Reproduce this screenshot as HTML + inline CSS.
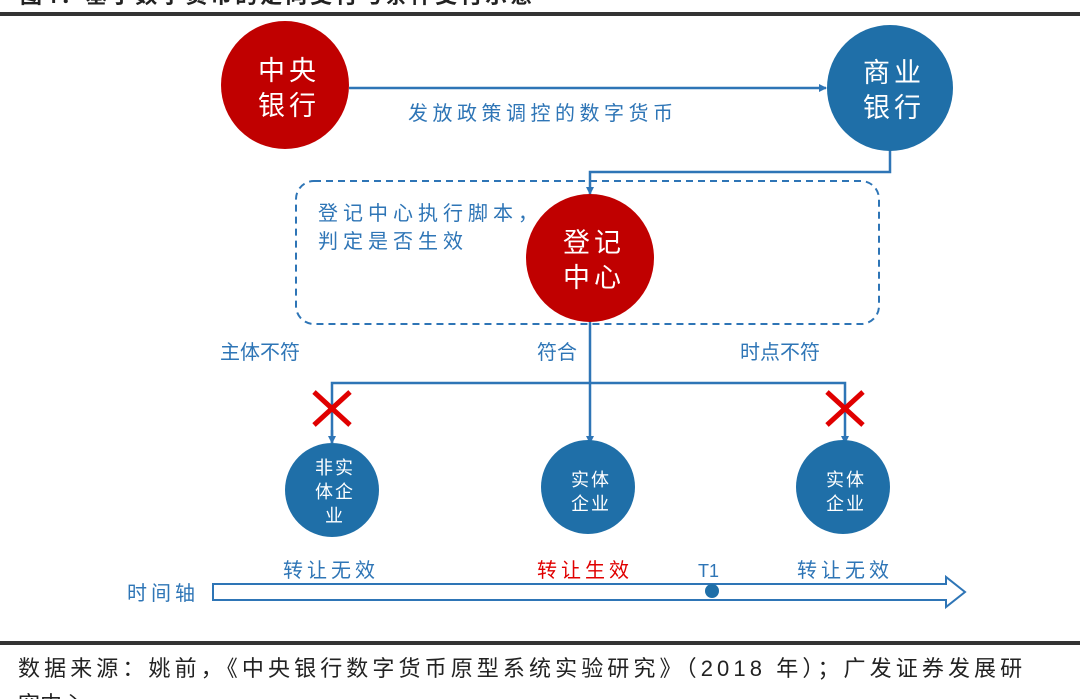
<!DOCTYPE html>
<html><head><meta charset="utf-8"><style>
body{margin:0;background:#fff;}
svg{display:block;font-family:"Liberation Sans","Noto Sans CJK SC",sans-serif;}
</style></head><body>
<svg width="1080" height="699" viewBox="0 0 1080 699" xmlns="http://www.w3.org/2000/svg">
<defs>
<marker id="a" markerWidth="8" markerHeight="8" refX="7" refY="4" orient="auto" markerUnits="userSpaceOnUse"><path d="M0,0 L8,4 L0,8 z" fill="#2e75b6"/></marker>
</defs>
<text x="20" y="3" font-size="22" fill="#222" font-weight="bold" letter-spacing="3">图4：基于数字货币的定向支付与条件支付示意</text>
<rect x="0" y="12" width="1080" height="4" fill="#333"/>
<rect x="0" y="641" width="1080" height="4" fill="#333"/>
<text x="18" y="676" font-size="22" fill="#222" letter-spacing="4.1">数据来源：姚前，《中央银行数字货币原型系统实验研究》（2018 年）；广发证券发展研</text>
<text x="18" y="712" font-size="22" fill="#222">究中心</text>

<g stroke="#2e75b6" stroke-width="2.5" fill="none">
<line x1="349" y1="88" x2="826" y2="88" marker-end="url(#a)"/>
<polyline points="890,150 890,172 590,172 590,194" marker-end="url(#a)"/>
<line x1="590" y1="320" x2="590" y2="443" marker-end="url(#a)"/>
<polyline points="332,443 332,383 845,383 845,443" marker-end="url(#a)"/>
<line x1="332" y1="430" x2="332" y2="443" marker-end="url(#a)"/>
</g>
<rect x="296" y="181" width="583" height="143" rx="18" fill="none" stroke="#2e75b6" stroke-width="2" stroke-dasharray="7,5"/>

<circle cx="285" cy="85" r="64" fill="#c00000"/>
<circle cx="890" cy="88" r="63" fill="#1f6fa8"/>
<circle cx="590" cy="258" r="64" fill="#c00000"/>
<circle cx="332" cy="490" r="47" fill="#1f6fa8"/>
<circle cx="588" cy="487" r="47" fill="#1f6fa8"/>
<circle cx="843" cy="487" r="47" fill="#1f6fa8"/>

<g fill="#fff" font-size="27" text-anchor="middle" letter-spacing="4">
<text x="289" y="80">中央</text><text x="289" y="115">银行</text>
<text x="894" y="82">商业</text><text x="894" y="117">银行</text>
<text x="594" y="252">登记</text><text x="594" y="287">中心</text>
</g>
<g fill="#fff" font-size="18" text-anchor="middle" letter-spacing="2">
<text x="335" y="474">非实</text><text x="335" y="498">体企</text><text x="335" y="522">业</text>
<text x="591" y="486">实体</text><text x="591" y="510">企业</text>
<text x="846" y="486">实体</text><text x="846" y="510">企业</text>
</g>

<g fill="#2e75b6" font-size="20">
<text x="408" y="120" letter-spacing="4.5">发放政策调控的数字货币</text>
<text x="318" y="220" letter-spacing="5">登记中心执行脚本，</text>
<text x="318" y="248" letter-spacing="5">判定是否生效</text>
<text x="220" y="359">主体不符</text>
<text x="537" y="359">符合</text>
<text x="740" y="359">时点不符</text>
<text x="283" y="577" letter-spacing="4">转让无效</text>
<text x="797" y="577" letter-spacing="4">转让无效</text>
<text x="127" y="600" letter-spacing="4">时间轴</text>
<text x="698" y="577" font-size="18">T1</text>
</g>
<text x="537" y="577" fill="#e00000" font-size="20" letter-spacing="4">转让生效</text>

<g stroke="#e00000" stroke-width="5">
<line x1="314" y1="392" x2="350" y2="425"/><line x1="350" y1="392" x2="314" y2="425"/>
<line x1="827" y1="392" x2="863" y2="425"/><line x1="863" y1="392" x2="827" y2="425"/>
</g>

<path d="M213,584 L946,584 L946,577 L965,592 L946,607 L946,600 L213,600 Z" fill="none" stroke="#2e75b6" stroke-width="2"/>
<circle cx="712" cy="591" r="7" fill="#1f6fa8"/>
</svg>
</body></html>
